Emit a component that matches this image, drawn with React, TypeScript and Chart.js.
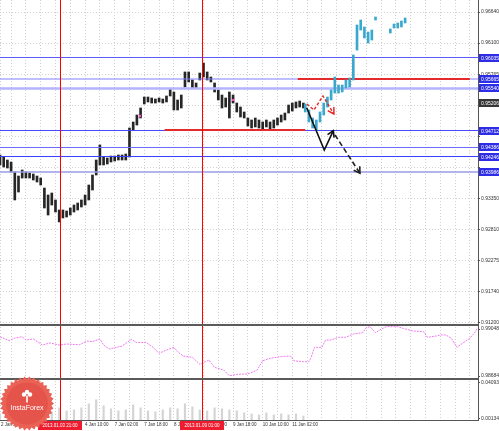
import React, { useEffect, useRef } from 'react';
import { Chart, registerables } from 'chart.js';
Chart.register(...registerables);

// ---------- data (x in hourly-bar units, y in price) ----------
const X_MAX = 258.4;

// black price bars, one every 2 bars starting at bar 0
const blackHigh = [0.94139,0.94104,0.94051,0.94016,0.93841,0.93771,0.93876,0.93841,0.93824,0.93806,
  0.93771,0.93736,0.93561,0.93439,0.93474,0.93352,0.93177,0.93177,0.93159,0.93212,
  0.93264,0.93299,0.93352,0.93439,0.93614,0.93789,0.94051,0.94314,0.94104,0.94086,
  0.94121,0.94121,0.94139,0.94139,0.94156,0.94611,0.94716,0.94838,0.94961,0.95153,
  0.95153,0.95136,0.95118,0.95136,0.95118,0.95171,0.95293,0.95241,0.95101,0.95188,
  0.95591,0.95591,0.95451,0.95398,0.95573,0.95748,0.95591,0.95503,0.95398,0.95276,
  0.95188,0.95136,0.95241,0.95188,0.95048,0.94978,0.94891,0.94786,0.94751,0.94786,
  0.94751,0.94716,0.94751,0.94716,0.94751,0.94786,0.94838,0.94873,0.95013,0.95048,
  0.95066,0.95083,0.95048];
const blackLow = [0.93964,0.93929,0.93911,0.93841,0.93352,0.93491,0.93736,0.93736,0.93736,0.93701,
  0.93666,0.93614,0.93212,0.93089,0.93264,0.93142,0.92967,0.93037,0.93054,0.93089,
  0.93142,0.93177,0.93229,0.93264,0.93352,0.93526,0.93789,0.93964,0.93964,0.93981,
  0.94016,0.94034,0.94051,0.94051,0.94051,0.94104,0.94576,0.94663,0.94786,0.95031,
  0.95066,0.95048,0.95048,0.95066,0.95048,0.95066,0.95171,0.94926,0.94926,0.94961,
  0.95328,0.95416,0.95311,0.95311,0.95451,0.95503,0.95451,0.95416,0.95241,0.95101,
  0.94961,0.94978,0.94786,0.95048,0.94891,0.94803,0.94786,0.94646,0.94611,0.94629,
  0.94611,0.94594,0.94629,0.94594,0.94611,0.94663,0.94716,0.94751,0.94873,0.94908,
  0.94961,0.94978,0.94961];

// cyan (later) price bars, one every 2 bars starting at bar 165
const CYAN_START = 165;
const cyanHigh = [0.95031,0.94926,0.94786,0.94751,0.94891,0.95048,0.95153,0.95276,0.95503,0.95363,
  0.95363,0.95451,0.95486,0.95888,0.96413,0.96500,0.96378,0.96290,0.96325,0.96553,
  null,null,null,0.96343,0.96430,0.96448,0.96483,0.96535];
const cyanLow = [0.94891,0.94716,0.94611,0.94576,0.94716,0.94838,0.94978,0.95101,0.95223,0.95223,
  0.95241,0.95311,0.95328,0.95451,0.95975,0.96325,0.96185,0.96098,0.96150,0.96500,
  null,null,null,0.96273,0.96360,0.96360,0.96378,0.96448];

// lower histogram, one every 4 bars
const volValues = [0.0066,0.0055,0.0088,0.0066,0.0055,0.0077,0.0099,0.0088,0.0132,0.0099,
  0.011,0.0132,0.0176,0.022,0.0154,0.0121,0.0099,0.011,0.0165,0.0132,
  0.0099,0.0088,0.011,0.0132,0.0121,0.0176,0.0143,0.011,0.0099,0.0132,
  0.0121,0.011,0.0099,0.0077,0.0066,0.0055,0.0077,0.0055,0.0066,0.0055,
  0.0066,0.0044];

// oscillator line
const indBars = [0,5,8,12,14,18,23,27,32,36,43,47,50,54,56,59,63,66,71,74,79,83,86,90,94,96,99,104,108,113,
  116,121,124,128,133,135,139,142,146,151,157,159,164,167,168,170,174,176,179,183,187,191,196,198,200,203,
  206,209,211,215,218,223,229,231,236,238,241,244,247,250,254,257,258];
const indValues = [0.98988,0.98957,0.98978,0.98988,0.98963,0.98971,0.98924,0.98940,0.98924,0.98932,
  0.98926,0.98955,0.98950,0.98971,0.98924,0.98893,0.98906,0.98916,0.98968,0.98942,
  0.98945,0.98903,0.98860,0.98885,0.98906,0.98872,0.98839,0.98829,0.98775,0.98808,
  0.98751,0.98730,0.98686,0.98697,0.98700,0.98705,0.98730,0.98802,0.98821,0.98833,
  0.98839,0.98802,0.98795,0.98795,0.98821,0.98906,0.98906,0.98963,0.98963,0.98984,
  0.98984,0.99009,0.99019,0.99058,0.99066,0.99019,0.99046,0.99066,0.99066,0.99066,
  0.99053,0.99033,0.99027,0.98984,0.98994,0.99002,0.99002,0.98976,0.98906,0.98937,
  0.98976,0.99027,0.99053];

// horizontal levels (full width, blue) and their axis boxes
const levelValues = [0.95844,0.95468,0.95302,0.94567,0.94270,0.94112,0.93841];
const levelLabels = ['0.96035','0.95665','0.95540','0.94712','0.94386','0.94246','0.93986'];
// red partial levels
const redValues = [0.95468, 0.94576];
const redFrom = [161, 89];
const redTo = [254, 165];
// current price box
const priceValue = 0.95048;
const priceLabel = '0.95206';

// analyst arrows
const blackArrowBars = [165.8, 175.3, 180.2];
const blackArrowPrices = [0.94966, 0.94226, 0.94564];
const dashArrowBars = [181.1, 194.6];
const dashArrowPrices = [0.94489, 0.93819];
const redArrowBars = [165.9, 169.7, 174.6, 180.5];
const redArrowPrices = [0.95031, 0.94926, 0.95171, 0.94856];
const markerBars = [75.7, 126];
const markerPrices = [0.94821, 0.95101];

// vertical time markers
const vlineBars = [32.5, 109];
const vlineLabels = ['2013.01.03 21:00', '2013.01.09 01:00'];

// axes
const yTickValues = [0.91200,0.91472,0.91744,0.92016,0.92288,0.92560,0.92832,0.93104,0.93376,0.93648,
  0.93920,0.94192,0.94464,0.94736,0.95008,0.95280,0.95552,0.95824,0.96096,0.96368,0.96640];
const yTickLabels = ['0.91200','0.91470','0.91740','0.92005','0.92275','0.92545','0.92810','0.93085','0.93350','0.93615',
  '','','','0.94960','','','0.95765','','0.96100','0.96370','0.96640'];
const indTickValues = [0.98684, 0.99048];
const volTickValues = [0.00134, 0.04093];
const xLabelBars = [0.5, 14, 30, 46, 62, 78, 94, 110, 126, 142, 158];
const xLabelTexts = ['2 Jan 2013','3 Jan 02:00','3 Jan 18:00','4 Jan 10:00','7 Jan 02:00','7 Jan 18:00',
  '8 Jan 10:00','9 Jan 02:00','9 Jan 18:00','10 Jan 10:00','11 Jan 02:00'];

// ---------- styles ----------
const levelColors = ['#5a5aff','#8080ff','#b4b4ff','#4848ff','#6a6aff','#3c3cff','#9c9ce8'];
const levelWidths = [1,1,2.5,1,1,1,1.5];
const FONT = 'Liberation Sans';

function drawLogo(ctx: CanvasRenderingContext2D) {
  const cx = 27, cy = 403.5, R = 27, r = 24.5, n = 34;
  ctx.save();
  ctx.beginPath();
  for (let i = 0; i <= 2 * n; i++) {
    const a = (i * Math.PI) / n;
    const rr = i % 2 ? r : R;
    const px = cx + rr * Math.cos(a), py = cy + rr * Math.sin(a);
    if (i === 0) ctx.moveTo(px, py); else ctx.lineTo(px, py);
  }
  ctx.closePath();
  ctx.fillStyle = '#ea6256';
  ctx.fill();
  ctx.beginPath();
  ctx.arc(cx, cy, 21, 0, Math.PI * 2);
  ctx.fillStyle = '#e5544b';
  ctx.fill();
  ctx.fillStyle = '#ffffff';
  ctx.fillRect(cx - 0.8, cy - 8, 1.6, 7);
  ctx.beginPath(); ctx.arc(cx - 3, cy - 9, 2.2, 0, Math.PI * 2); ctx.fill();
  ctx.beginPath(); ctx.arc(cx + 3, cy - 9, 2.2, 0, Math.PI * 2); ctx.fill();
  ctx.beginPath(); ctx.arc(cx, cy - 11.5, 2.2, 0, Math.PI * 2); ctx.fill();
  ctx.font = `7px "${FONT}"`;
  ctx.textAlign = 'center';
  ctx.textBaseline = 'middle';
  ctx.fillText('InstaForex', cx, cy + 4.5);
  ctx.restore();
}

const decor = {
  id: 'decor',
  afterDatasetsDraw(chart: any) {
    const { ctx, chartArea, scales } = chart;
    ctx.save();
    ctx.fillStyle = '#ff0000';
    for (const b of vlineBars) {
      const px = Math.round(scales.x.getPixelForValue(b));
      ctx.fillRect(px, chartArea.top, 1, chartArea.bottom - chartArea.top);
    }
    ctx.restore();
    chart.data.datasets.forEach((ds: any, i: number) => {
      if (!ds.arrowHead) return;
      const pts = chart.getDatasetMeta(i).data;
      const p1 = pts[pts.length - 2], p2 = pts[pts.length - 1];
      const ang = Math.atan2(p2.y - p1.y, p2.x - p1.x);
      const L = 7;
      ctx.save();
      ctx.strokeStyle = ds.borderColor;
      ctx.lineWidth = ds.borderWidth;
      ctx.setLineDash([]);
      ctx.beginPath();
      ctx.moveTo(p2.x + L * Math.cos(ang + 2.6), p2.y + L * Math.sin(ang + 2.6));
      ctx.lineTo(p2.x, p2.y);
      ctx.lineTo(p2.x + L * Math.cos(ang - 2.6), p2.y + L * Math.sin(ang - 2.6));
      ctx.stroke();
      ctx.restore();
    });
  },
  afterDraw(chart: any) {
    const { ctx, chartArea, scales } = chart;
    ctx.save();
    ctx.setLineDash([]);
    ctx.fillStyle = '#5a5a5a';
    for (const key of ['yi', 'yv']) {
      const y = Math.round(scales[key].top);
      ctx.fillRect(chartArea.left, y - 1, chartArea.right - chartArea.left, 2);
    }
    ctx.font = `5px "${FONT}"`;
    ctx.textBaseline = 'middle';
    ctx.textAlign = 'left';
    const boxX = chartArea.right + 1;
    const drawBox = (val: number, label: string, fill: string) => {
      const py = Math.round(scales.y.getPixelForValue(val));
      ctx.fillStyle = fill;
      ctx.fillRect(boxX, py - 4, 499 - boxX, 8);
      ctx.fillStyle = '#ffffff';
      ctx.fillText(label, boxX + 2, py + 0.5);
    };
    levelValues.forEach((v, i) => drawBox(v, levelLabels[i], '#2d2de6'));
    drawBox(priceValue, priceLabel, '#363636');
    ctx.font = `4.5px "${FONT}"`;
    ctx.textAlign = 'center';
    vlineBars.forEach((b, i) => {
      const px = Math.round(scales.x.getPixelForValue(b));
      ctx.fillStyle = '#ee1c2e';
      ctx.fillRect(px - 22, chartArea.bottom + 1, 44, 9);
      ctx.fillStyle = '#ffffff';
      ctx.fillText(vlineLabels[i], px, chartArea.bottom + 5.8);
    });
    ctx.restore();
    drawLogo(ctx);
  },
};

export default function App() {
  const ref = useRef<HTMLCanvasElement | null>(null);
  useEffect(() => {
    if (!ref.current) return;
    const datasets: any[] = [];
    datasets.push({
      type: 'line', order: 0, yAxisID: 'y', arrowHead: true,
      data: blackArrowBars.map((b, i) => ({ x: b, y: blackArrowPrices[i] })),
      borderColor: '#111111', borderWidth: 1.6, pointRadius: 0, tension: 0,
    });
    datasets.push({
      type: 'line', order: 0, yAxisID: 'y', arrowHead: true,
      data: dashArrowBars.map((b, i) => ({ x: b, y: dashArrowPrices[i] })),
      borderColor: '#222222', borderWidth: 1.6, borderDash: [5, 3], pointRadius: 0, tension: 0,
    });
    datasets.push({
      type: 'line', order: 0, yAxisID: 'y', arrowHead: true,
      data: redArrowBars.map((b, i) => ({ x: b, y: redArrowPrices[i] })),
      borderColor: '#e82020', borderWidth: 1.4, borderDash: [3, 2], pointRadius: 0, tension: 0,
    });
    datasets.push({
      type: 'line', order: 0, yAxisID: 'y', showLine: false,
      data: markerBars.map((b, i) => ({ x: b, y: markerPrices[i] })),
      pointStyle: 'crossRot', pointRadius: 2, borderColor: '#ff55cc', borderWidth: 1,
    });
    datasets.push({
      type: 'bar', order: 1, yAxisID: 'y', grouped: false,
      data: cyanHigh.map((h, i) => (h == null ? null : { x: CYAN_START + i * 2, y: [cyanLow[i], h] })).filter(Boolean),
      backgroundColor: '#3aa8cc', barThickness: 2,
    });
    redValues.forEach((v, i) => datasets.push({
      type: 'line', order: 2, yAxisID: 'y',
      data: [{ x: redFrom[i], y: v }, { x: redTo[i], y: v }],
      borderColor: '#e42a2a', borderWidth: 2, pointRadius: 0,
    }));
    levelValues.forEach((v, i) => datasets.push({
      type: 'line', order: 3, yAxisID: 'y',
      data: [{ x: 0, y: v }, { x: X_MAX, y: v }],
      borderColor: levelColors[i], borderWidth: levelWidths[i], pointRadius: 0,
    }));
    datasets.push({
      type: 'bar', order: 4, yAxisID: 'y', grouped: false,
      data: blackHigh.map((h, i) => ({ x: i * 2, y: [blackLow[i], h] })),
      backgroundColor: '#262626', barThickness: 2,
    });
    datasets.push({
      type: 'line', order: 5, yAxisID: 'yi',
      data: indBars.map((b, i) => ({ x: b, y: indValues[i] })),
      borderColor: '#f07af0', borderWidth: 1, borderDash: [2, 1], pointRadius: 0, tension: 0,
    });
    datasets.push({
      type: 'bar', order: 6, yAxisID: 'yv', grouped: false,
      data: volValues.map((v, i) => ({ x: i * 4, y: v })),
      backgroundColor: '#d4d4d4', barThickness: 1.5,
    });

    const tickFont = { family: FONT, size: 5 };
    const chart = new Chart(ref.current, {
      type: 'line',
      data: { datasets },
      plugins: [decor],
      options: {
        responsive: false,
        devicePixelRatio: 1,
        animation: false,
        events: [],
        layout: { padding: 0, autoPadding: false },
        plugins: { legend: { display: false }, tooltip: { enabled: false } },
        scales: {
          x: {
            type: 'linear', min: 0, max: X_MAX, offset: false,
            grid: { color: '#cfcfcf', drawTicks: false, offset: false },
            border: { display: true, color: '#555555', dash: [1, 2] },
            afterBuildTicks: (s: any) => {
              const t: any[] = [];
              for (let b = 6; b <= X_MAX; b += 8) t.push({ value: b });
              t.unshift({ value: xLabelBars[0] });
              s.ticks = t;
            },
            afterFit: (s: any) => { s.height = 11; s.paddingLeft = 0; s.paddingRight = 0; },
            ticks: {
              autoSkip: false, maxRotation: 0, minRotation: 0, align: 'start', padding: 2,
              font: { family: FONT, size: 4.5 }, color: '#333333',
              callback: (v: any) => {
                const i = xLabelBars.indexOf(v);
                return i >= 0 ? xLabelTexts[i] : '';
              },
            },
          },
          y: {
            type: 'linear', position: 'right', stack: 'panes', stackWeight: 325, weight: 1,
            min: 0.91165, max: 0.96850,
            grid: { color: '#d2d2d2', drawTicks: true, tickLength: 2, tickColor: '#555555' },
            border: { display: true, color: '#555555', dash: [1, 2] },
            afterBuildTicks: (s: any) => { s.ticks = yTickValues.map((v) => ({ value: v })); },
            afterFit: (s: any) => { s.width = 21; s.paddingTop = 0; s.paddingBottom = 0; },
            ticks: {
              font: tickFont, color: '#333333', padding: 1,
              callback: (_v: any, i: number) => yTickLabels[i],
            },
          },
          yi: {
            type: 'linear', position: 'right', stack: 'panes', stackWeight: 54, weight: 2,
            min: 0.98661, max: 0.99079,
            grid: { drawOnChartArea: false, drawTicks: true, tickLength: 2, tickColor: '#555555' },
            border: { display: true, color: '#555555' },
            afterBuildTicks: (s: any) => { s.ticks = indTickValues.map((v) => ({ value: v })); },
            afterFit: (s: any) => { s.width = 21; s.paddingTop = 0; s.paddingBottom = 0; },
            ticks: { font: tickFont, color: '#333333', padding: 1, callback: (v: any) => Number(v).toFixed(5) },
          },
          yv: {
            type: 'linear', position: 'right', stack: 'panes', stackWeight: 41, weight: 3,
            min: 0, max: 0.0445,
            grid: { drawOnChartArea: false, drawTicks: true, tickLength: 2, tickColor: '#555555' },
            border: { display: true, color: '#555555' },
            afterBuildTicks: (s: any) => { s.ticks = volTickValues.map((v) => ({ value: v })); },
            afterFit: (s: any) => { s.width = 21; s.paddingTop = 0; s.paddingBottom = 0; },
            ticks: { font: tickFont, color: '#333333', padding: 1, callback: (v: any) => Number(v).toFixed(5) },
          },
        },
      } as any,
    });
    return () => chart.destroy();
  }, []);

  return (
    <div style={{ position: 'fixed', left: 0, top: 0, width: 499, height: 431, background: '#ffffff' }}>
      <canvas ref={ref} width={499} height={431} style={{ display: 'block', width: 499, height: 431 }} />
    </div>
  );
}
